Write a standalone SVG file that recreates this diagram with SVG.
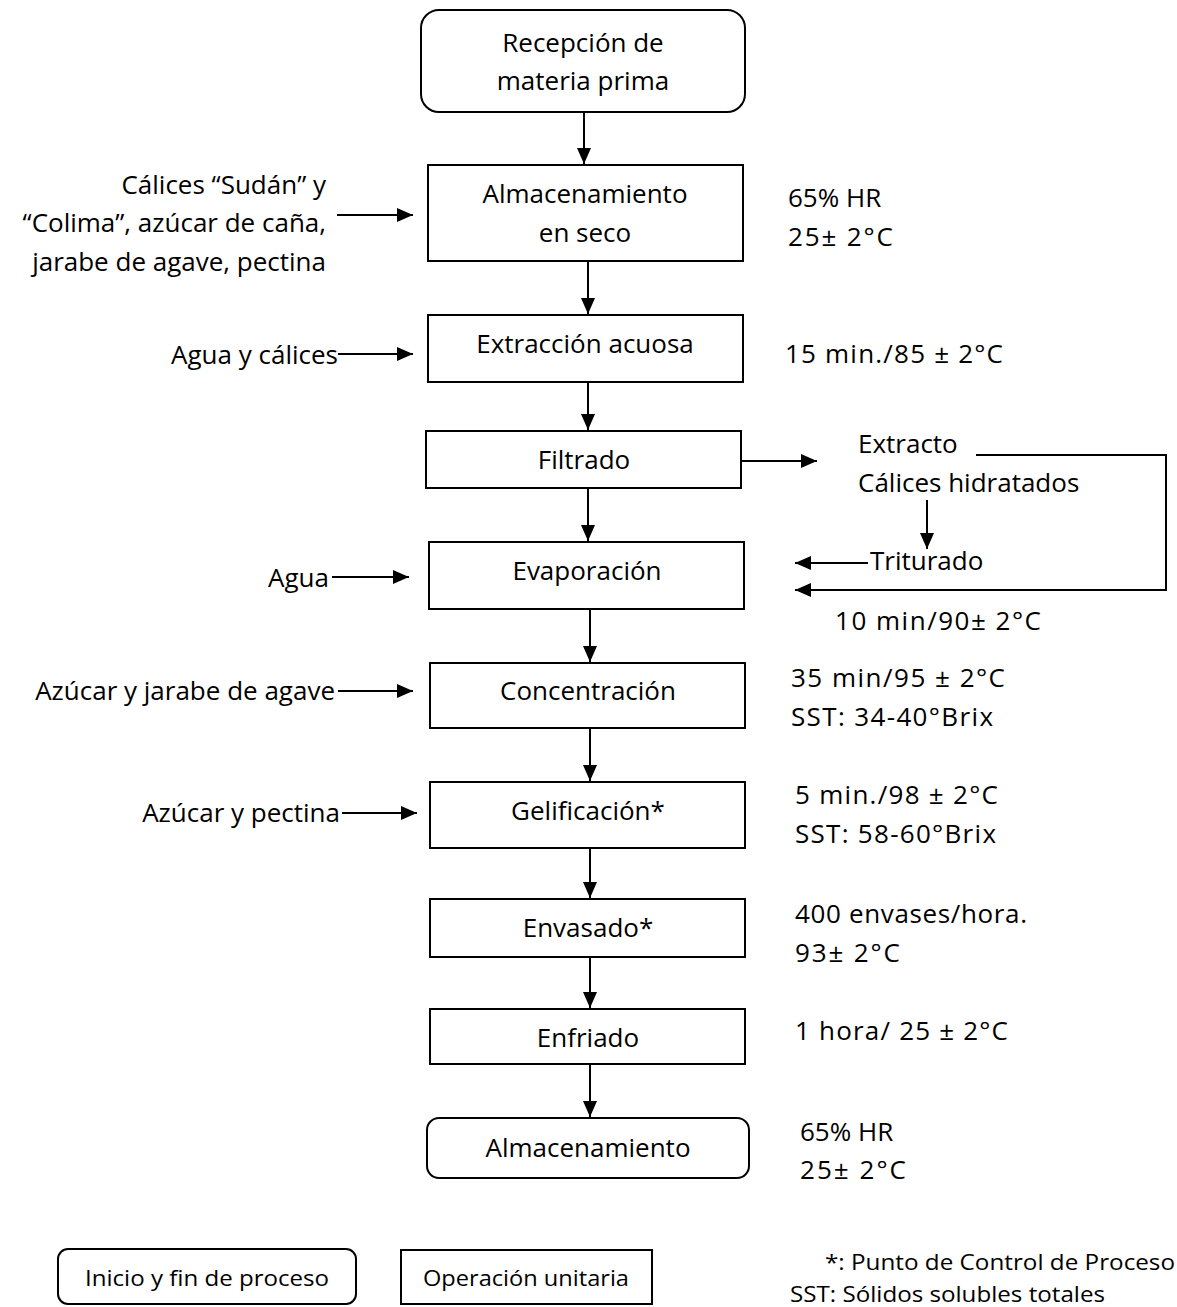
<svg xmlns="http://www.w3.org/2000/svg" width="1177" height="1307" viewBox="0 0 1177 1307">
<style>
text{font-family:"Open Sans","Noto Sans","DejaVu Sans",sans-serif;font-size:26px;fill:#000;dominant-baseline:central}
.c{text-anchor:middle}
.r{text-anchor:end}
.box{fill:#fff;stroke:#000;stroke-width:2}
.ln{fill:none;stroke:#000;stroke-width:2}
.lg{font-size:22px}
</style>
<defs>
<marker id="ah" viewBox="0 0 16 14" refX="16" refY="7" markerWidth="16" markerHeight="14" markerUnits="userSpaceOnUse" orient="auto">
<path d="M0,0 L16,7 L0,14 Z" fill="#000"/>
</marker>
</defs>
<rect width="1177" height="1307" fill="#fff"/>
<g id="connectors">
<line class="ln" x1="584" y1="112" x2="584" y2="164" marker-end="url(#ah)"/>
<line class="ln" x1="588" y1="261" x2="588" y2="314" marker-end="url(#ah)"/>
<line class="ln" x1="588" y1="382" x2="588" y2="430" marker-end="url(#ah)"/>
<line class="ln" x1="588" y1="488" x2="588" y2="541" marker-end="url(#ah)"/>
<line class="ln" x1="590" y1="609" x2="590" y2="662" marker-end="url(#ah)"/>
<line class="ln" x1="590" y1="728" x2="590" y2="781" marker-end="url(#ah)"/>
<line class="ln" x1="590" y1="848" x2="590" y2="898" marker-end="url(#ah)"/>
<line class="ln" x1="590" y1="957" x2="590" y2="1008" marker-end="url(#ah)"/>
<line class="ln" x1="590" y1="1064" x2="590" y2="1117" marker-end="url(#ah)"/>
<line class="ln" x1="337" y1="215" x2="413" y2="215" marker-end="url(#ah)"/>
<line class="ln" x1="338" y1="354" x2="413" y2="354" marker-end="url(#ah)"/>
<line class="ln" x1="332" y1="577" x2="409" y2="577" marker-end="url(#ah)"/>
<line class="ln" x1="338" y1="691" x2="413" y2="691" marker-end="url(#ah)"/>
<line class="ln" x1="342" y1="813" x2="417" y2="813" marker-end="url(#ah)"/>
<line class="ln" x1="741" y1="461" x2="817" y2="461" marker-end="url(#ah)"/>
<polyline class="ln" points="976,455 1166,455 1166,590 795,590" marker-end="url(#ah)"/>
<line class="ln" x1="927" y1="500" x2="927" y2="549" marker-end="url(#ah)"/>
<line class="ln" x1="868" y1="563" x2="795" y2="563" marker-end="url(#ah)"/>
</g>
<g id="n1"><rect class="box" x="421" y="10" width="324" height="102" rx="18"/><text class="c" x="583" y="42">Recepción de</text><text class="c" x="583" y="80">materia prima</text></g>
<g id="n2"><rect class="box" x="428" y="165" width="315" height="96"/><text class="c" x="585" y="193">Almacenamiento</text><text class="c" x="585" y="232">en seco</text></g>
<g id="n3"><rect class="box" x="428" y="315" width="315" height="67"/><text class="c" x="585" y="343">Extracción acuosa</text></g>
<g id="n4"><rect class="box" x="426" y="431" width="315" height="57"/><text class="c" x="584" y="459">Filtrado</text></g>
<g id="n5"><rect class="box" x="429" y="542" width="315" height="67"/><text class="c" x="587" y="570">Evaporación</text></g>
<g id="n6"><rect class="box" x="430" y="663" width="315" height="65"/><text class="c" x="588" y="690">Concentración</text></g>
<g id="n7"><rect class="box" x="430" y="782" width="315" height="66"/><text class="c" x="588" y="810">Gelificación*</text></g>
<g id="n8"><rect class="box" x="430" y="899" width="315" height="58"/><text class="c" x="588" y="927">Envasado*</text></g>
<g id="n9"><rect class="box" x="430" y="1009" width="315" height="55"/><text class="c" x="588" y="1037">Enfriado</text></g>
<g id="n10"><rect class="box" x="427" y="1118" width="322" height="60" rx="12"/><text class="c" x="588" y="1147">Almacenamiento</text></g>
<g id="inputs">
<text class="r" x="326" y="184">Cálices “Sudán” y</text>
<text class="r" x="326" y="222">“Colima”, azúcar de caña,</text>
<text class="r" x="326" y="261">jarabe de agave, pectina</text>
<text class="r" x="338" y="354">Agua y cálices</text>
<text class="r" x="329" y="577">Agua</text>
<text class="r" x="335" y="690">Azúcar y jarabe de agave</text>
<text class="r" x="340" y="812">Azúcar y pectina</text>
</g>
<g id="side">
<text x="858" y="443">Extracto</text>
<text x="858" y="482">Cálices hidratados</text>
<text x="870" y="560">Triturado</text>
<text x="835" y="620" textLength="206" lengthAdjust="spacing">10 min/90± 2°C</text>
</g>
<g id="conditions">
<text x="788" y="197">65% HR</text>
<text x="788" y="236" textLength="105" lengthAdjust="spacing">25± 2°C</text>
<text x="785" y="353" textLength="218" lengthAdjust="spacing">15 min./85 ± 2°C</text>
<text x="791" y="677" textLength="214" lengthAdjust="spacing">35 min/95 ± 2°C</text>
<text x="791" y="716" textLength="202" lengthAdjust="spacing">SST: 34-40°Brix</text>
<text x="795" y="794" textLength="203" lengthAdjust="spacing">5 min./98 ± 2°C</text>
<text x="795" y="833" textLength="201" lengthAdjust="spacing">SST: 58-60°Brix</text>
<text x="795" y="913" textLength="232" lengthAdjust="spacing">400 envases/hora.</text>
<text x="795" y="952" textLength="105" lengthAdjust="spacing">93± 2°C</text>
<text x="795" y="1030" textLength="213" lengthAdjust="spacing">1 hora/ 25 ± 2°C</text>
<text x="800" y="1131">65% HR</text>
<text x="800" y="1169" textLength="106" lengthAdjust="spacing">25± 2°C</text>
</g>
<g id="legend">
<rect class="box" x="58" y="1249" width="298" height="55" rx="10"/>
<text class="c lg" x="207" y="1277" textLength="244" lengthAdjust="spacingAndGlyphs">Inicio y fin de proceso</text>
<rect class="box" x="401" y="1250" width="251" height="54"/>
<text class="c lg" x="526" y="1277" textLength="206" lengthAdjust="spacingAndGlyphs">Operación unitaria</text>
<text class="r lg" x="1175" y="1261" textLength="350" lengthAdjust="spacingAndGlyphs">*: Punto de Control de Proceso</text>
<text class="lg" x="790" y="1293" textLength="315" lengthAdjust="spacingAndGlyphs">SST: Sólidos solubles totales</text>
</g>
</svg>
